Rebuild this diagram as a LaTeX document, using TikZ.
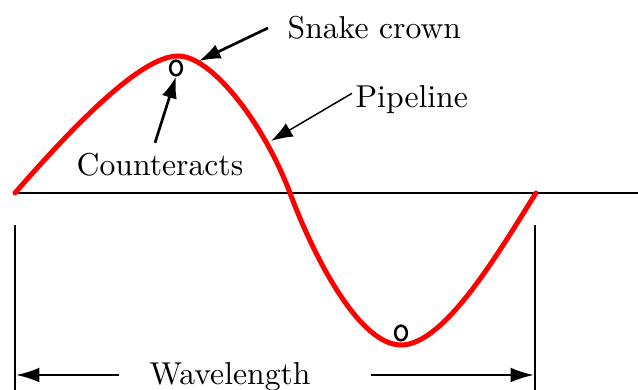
\documentclass[tikz,border=0pt]{standalone}
\usepackage{tikz}
\usetikzlibrary{arrows.meta,shapes.geometric}

\begin{document}
\begin{tikzpicture}[x=0.3pt, y=-0.3pt,
        lbl/.style = {font=\fontsize{9.5}{11}\selectfont, inner sep=0pt},
        ctr/.style = {draw, ellipse, line width=0.75pt, minimum width=3.5pt, minimum height=4.4pt, inner sep=0pt},
        arr/.style = {-{Latex[length=6.5pt,width=4.6pt]}, line width=0.8pt},
        dim/.style = {-{Latex[length=7pt,width=4.4pt]}, line width=0.65pt}]
    \useasboundingbox (0,0) rectangle (638,390);

    % axis and pipeline
    \draw[line width=0.85pt] (15,193) -- (638,193);
    \draw[red, line width=1.5pt, line cap=round]
        (15,193) .. controls (70,130) and (140,56) .. (178,56)
        .. controls (212,56) and (264,124) .. (290,193)
        .. controls (315,260) and (360,345) .. (401,345)
        .. controls (445,345) and (500,250) .. (536,193);

    \node[ctr] (c1) at (176,68) {};
    \node[ctr] (c2) at (401,333) {};

    \node[lbl, anchor=west] (crown) at (287,28) {Snake crown};
    \node[lbl, anchor=west] (pipe) at (355,100) {Pipeline};
    \node[lbl] (count) at (160,165) {Counteracts};
    \node[lbl] (wave) at (230,377) {Wavelength};

    \coordinate (crowntip) at (199,61);
    \coordinate (pipetip) at (271,141);
    \coordinate (wl) at (16,375);
    \coordinate (wr) at (534,375);

    \draw[arr] ([xshift=-5.7pt]crown.west) -- (crowntip);
    \draw[arr, line width=0.45pt] ([shift={(-0.9pt,2pt)}]pipe.west) -- (pipetip);
    \draw[arr] ([xshift=-1.5pt, yshift=3pt]count.north) -- (c1.south);

    % wavelength
    \coordinate (v1) at (15,225);
    \coordinate (v2) at (535,225);
    \draw[line width=0.65pt] (v1) -- (15,395);
    \draw[line width=0.65pt] (v2) -- (535,395);
    \draw[dim] ([xshift=-9pt]wave.west |- wl) -- (wl);
    \draw[dim] ([xshift=18pt]wave.east |- wr) -- (wr);
\end{tikzpicture}
\end{document}
